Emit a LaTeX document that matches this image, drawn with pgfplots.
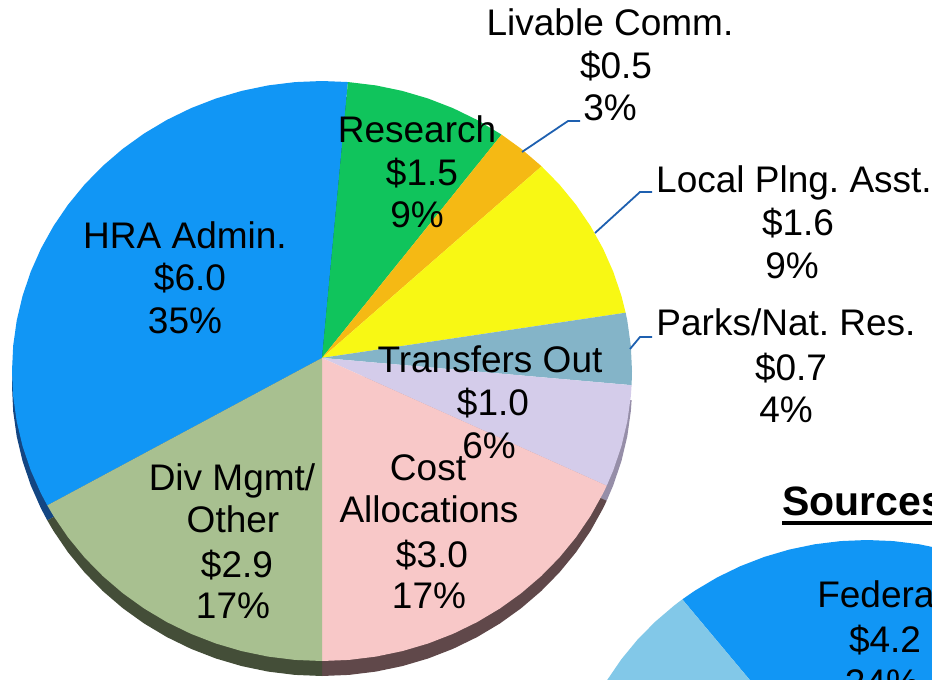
\documentclass[border=0pt]{standalone}
\usepackage{pgfplots}
\usepackage{pgfplotstable}
\pgfplotsset{compat=1.18}
\usepackage{fontspec}
\setmainfont{Liberation Sans}
\frenchspacing

\definecolor{hra}{RGB}{17,150,245}
\definecolor{research}{RGB}{16,196,92}
\definecolor{livable}{RGB}{245,185,20}
\definecolor{localp}{RGB}{248,248,20}
\definecolor{parks}{RGB}{132,180,200}
\definecolor{transfers}{RGB}{212,204,234}
\definecolor{cost}{RGB}{248,200,200}
\definecolor{divm}{RGB}{168,192,144}
\definecolor{lightblue}{RGB}{130,200,232}
\definecolor{hraside}{RGB}{20,70,130}
\definecolor{divside}{RGB}{68,78,56}
\definecolor{costside}{RGB}{96,72,74}
\definecolor{transside}{RGB}{150,142,168}
\definecolor{leader}{RGB}{30,96,176}

% wedges of the uses pie: angle (deg) and radius, apex first
\pgfplotstableread{
a r
90 14
85.2 310
90 310
95 310
100 310
105 310
110 310
115 310
120 310
125 310
130 310
135 310
140 310
145 310
150 310
155 310
160 310
165 310
170 310
175 310
180 310
185 310
190 310
195 310
200 310
205 310
207.6 310
}\hra
\pgfplotstableread{
a r
90 14
54.6 310
60 310
65 310
70 310
75 310
80 310
85.2 310
}\research
\pgfplotstableread{
a r
90 14
44.9 310
50 310
54.6 310
}\livable
\pgfplotstableread{
a r
90 14
11.6 310
15 310
20 310
25 310
30 310
35 310
40 310
44.9 310
}\localp
\pgfplotstableread{
a r
90 14
-2.8 310
0 310
5 310
10 310
11.6 310
}\parks
\pgfplotstableread{
a r
90 14
-23.3 310
-20 310
-15 310
-10 310
-5 310
-2.8 310
}\transfers
\pgfplotstableread{
a r
90 14
-90 310
-85 310
-80 310
-75 310
-70 310
-65 310
-60 310
-55 310
-50 310
-45 310
-40 310
-35 310
-30 310
-25 310
-23.3 310
}\cost
\pgfplotstableread{
a r
90 14
207.6 310
210 310
215 310
220 310
225 310
230 310
235 310
240 310
245 310
250 310
255 310
260 310
265 310
270 310
}\divm

% sources pie (only part of it is in view)
\pgfplotstableread{
a r
0 0
41.6 300
45 300
50 300
55 300
60 300
65 300
70 300
75 300
80 300
85 300
90 300
95 300
100 300
105 300
110 300
115 300
120 300
125 300
128 300
}\federal
\pgfplotstableread{
a r
0 0
128 300
130 300
135 300
140 300
145 300
150 300
155 300
160 300
165 300
170 300
175 300
180 300
185 300
190 300
}\state

\pgfplotsset{
  canvas/.style={width=932pt, height=680pt, scale only axis, hide axis,
    at={(0,0)}, anchor=south west},
  wedge/.style={data cs=polar, draw=none, fill=#1},
  side/.style={data cs=polar, draw=none, fill=#1, yshift=-15pt},
}
\tikzset{lbl/.style={anchor=base, inner sep=0pt, font=\fontsize{37}{44}\selectfont}}

\begin{document}
\begin{tikzpicture}

% uses pie
\begin{axis}[canvas, name=pie,
  xmin=-322, xmax=610, ymin=-330.3, ymax=396.6]
\addplot[side=hraside] table {\hra};
\addplot[side=transside] table {\transfers};
\addplot[side=costside] table {\cost};
\addplot[side=divside] table {\divm};
\addplot[wedge=hra] table {\hra};
\addplot[wedge=research] table {\research};
\addplot[wedge=livable] table {\livable};
\addplot[wedge=localp] table {\localp};
\addplot[wedge=parks] table {\parks};
\addplot[wedge=transfers] table {\transfers};
\addplot[wedge=cost] table {\cost};
\addplot[wedge=divm] table {\divm};
\end{axis}

% sources pie
\begin{axis}[canvas,
  xmin=-867, xmax=65, ymin=150, ymax=878.6]
\addplot[wedge=hra] table {\federal};
\addplot[wedge=lightblue] table {\state};
\end{axis}

% labels, in pixel coordinates of the slide
\begin{axis}[canvas,
  xmin=0, xmax=932, ymin=0, ymax=680, y dir=reverse]
\addplot[leader, line width=1.8pt] coordinates {(522,152) (568,121) (580,121)};
\addplot[leader, line width=1.8pt] coordinates {(595,233) (640,192) (652,192)};
\addplot[leader, line width=1.8pt] coordinates {(630,349) (640,337) (652,337)};
\addplot[black, line width=4pt] coordinates {(782,523) (940,523)};

\node[lbl] at (axis cs:610,35) {Livable Comm.};
\node[lbl] at (axis cs:616,78) {\$0.5};
\node[lbl] at (axis cs:610,120) {3\%};

\node[lbl] at (axis cs:417,142) {Research};
\node[lbl] at (axis cs:422,185) {\$1.5};
\node[lbl] at (axis cs:417,227) {9\%};

\node[lbl] at (axis cs:794,192) {Local Plng. Asst.};
\node[lbl] at (axis cs:798,235) {\$1.6};
\node[lbl] at (axis cs:792,278) {9\%};

\node[lbl] at (axis cs:786,335) {Parks/Nat. Res.};
\node[lbl] at (axis cs:791,380) {\$0.7};
\node[lbl] at (axis cs:786,422) {4\%};

\node[lbl] at (axis cs:185,248) {HRA Admin.};
\node[lbl] at (axis cs:190,290) {\$6.0};
\node[lbl] at (axis cs:185,333) {35\%};

\node[lbl] at (axis cs:490,372) {Transfers Out};
\node[lbl] at (axis cs:493,415) {\$1.0};
\node[lbl] at (axis cs:489,458) {6\%};

\node[lbl] at (axis cs:428,480) {Cost};
\node[lbl] at (axis cs:429,522) {Allocations};
\node[lbl] at (axis cs:432,567) {\$3.0};
\node[lbl] at (axis cs:429,608) {17\%};

\node[lbl] at (axis cs:232,490) {Div Mgmt/};
\node[lbl] at (axis cs:233,532) {Other};
\node[lbl] at (axis cs:237,577) {\$2.9};
\node[lbl] at (axis cs:233,618) {17\%};

\node[lbl, anchor=base west, font=\fontsize{41}{48}\selectfont\bfseries] at (axis cs:782,515) {Sources};
\node[lbl] at (axis cs:880,607) {Federal};
\node[lbl] at (axis cs:885,652) {\$4.2};
\node[lbl] at (axis cs:882,695) {24\%};
\end{axis}

\pgfresetboundingbox
\path[use as bounding box] (pie.south west) rectangle (pie.north east);
\end{tikzpicture}
\end{document}
